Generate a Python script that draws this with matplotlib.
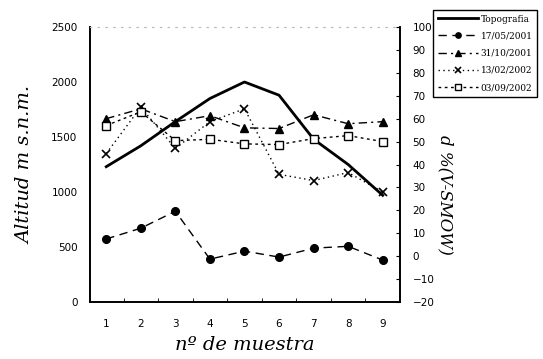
import numpy as np
import matplotlib
matplotlib.use("Agg")
import matplotlib.pyplot as plt
from matplotlib.lines import Line2D

# datos
muestra = [1, 2, 3, 4, 5, 6, 7, 8, 9]
topografia = [1230, 1420, 1640, 1850, 2000, 1880, 1480, 1250, 970]
d_170501 = [7.5, 12.2, 19.6, -1.3, 2.2, -0.4, 3.5, 4.3, -1.7]
d_311001 = [60.0, 64.3, 58.7, 61.3, 56.0, 55.7, 61.7, 57.8, 58.7]
d_130202 = [44.8, 65.0, 47.0, 58.7, 64.3, 35.7, 33.0, 36.5, 28.0]
d_030902 = [57.0, 63.0, 50.4, 51.0, 49.0, 48.7, 51.3, 52.6, 50.0]

left_ticks = [0, 500, 1000, 1500, 2000, 2500]
right_ticks = [-20, -10, 0, 10, 20, 30, 40, 50, 60, 70, 80, 90, 100]
fechas = ["17/05/2001", "31/10/2001", "13/02/2002", "03/09/2002"]

fig = plt.figure(figsize=(5.43, 3.59), dpi=100)
ax = fig.add_axes([90 / 543, 57 / 359, 310 / 543, 275 / 359])
ax2 = ax.twinx()

# topografia en eje izquierdo
ax.plot(muestra, topografia, color="black", lw=2.0, zorder=3)
ax.set_ylim(0, 2500)
ax.set_xlim(0.53, 9.5)
ax.set_yticks(left_ticks)
ax.tick_params(axis="y", length=0, pad=9, labelsize=7.5)
ax.set_xticks(muestra)
ax.set_xticks(np.arange(1.5, 9.5, 1), minor=True)
ax.tick_params(axis="x", which="major", length=0, pad=12, labelsize=7.5)
ax.tick_params(axis="x", which="minor", direction="in", length=3)

# isotopos en eje derecho
s1, = ax2.plot(muestra, d_170501, color="black", lw=1.0, ls=(0, (6, 4)),
               marker="o", ms=5.5)
s2, = ax2.plot(muestra, d_311001, color="black", lw=1.0, ls=(0, (6, 3, 1.5, 3)),
               marker="^", ms=6)
s3, = ax2.plot(muestra, d_130202, color="black", lw=1.0, ls=(0, (1, 2.5)),
               marker="x", ms=6, mew=1.2)
s4, = ax2.plot(muestra, d_030902, color="black", lw=1.0, ls=(0, (2, 2.5)),
               marker="s", ms=5.5, mfc="white", mew=1.0)
ax2.set_ylim(-20, 100)
ax2.set_yticks(right_ticks)
ax2.tick_params(axis="y", direction="in", length=3, pad=9, labelsize=7.5)

for a in (ax, ax2):
    a.spines["top"].set_color("#bbbbbb")
    a.spines["top"].set_linestyle((0, (1, 6)))
    a.spines["left"].set_linewidth(1.2)
    a.spines["right"].set_linewidth(1.2)
    a.spines["bottom"].set_linewidth(1.2)

ax.set_ylabel("Altitud m s.n.m.", family="DejaVu Serif", style="italic",
              fontsize=14, labelpad=12)
ax.set_xlabel("nº de muestra", family="DejaVu Serif", style="italic",
              fontsize=14, labelpad=5)
ax2.set_ylabel("d %(V-SMOW)", family="DejaVu Serif", style="italic",
               fontsize=12, rotation=270, va="center")
ax2.yaxis.set_label_coords(1.145, 0.39)

handles = [Line2D([], [], color="black", lw=2.0), s1, s2, s3, s4]
fig.legend(handles, ["Topografia"] + fechas, loc="upper left",
           bbox_to_anchor=(433 / 543, 1 - 10 / 359), frameon=True,
           fancybox=False, edgecolor="black", framealpha=1,
           prop={"family": "DejaVu Serif", "size": 6.5},
           handlelength=4.5, handletextpad=0.3, borderpad=0.5,
           labelspacing=0.9, borderaxespad=0, markerscale=0.7)

fig.savefig("out.png", dpi=100)
